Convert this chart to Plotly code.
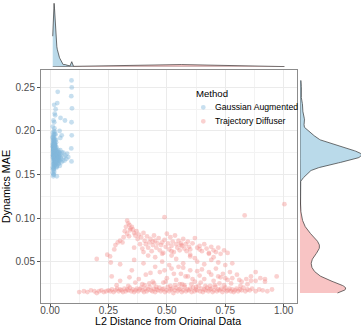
import numpy as np
import plotly.graph_objects as go

# ---------------- data ----------------
methods = ["Gaussian Augmented", "Trajectory Diffuser"]

gauss_x = [
    .0116,.013,.014,.012,.015,.013,.016,.014,.012,.017,
    .015,.016,.013,.018,.017,.014,.019,.016,.015,.018,
    .019,.020,.018,.013,.017,.014,.020,.019,.016,.012,
    .014,.018,.015,.017,.013,.019,.016,.020,.012,.018,
    .013,.017,.015,.019,.014,.016,.018,.012,.020,.015,
    .017,.013,.019,.016,.014,.018,.015,.020,.013,.016,
    .013,.014,.015,.016,.017,.018,.019,.020,.021,.022,
    .014,.015,.016,.017,.018,.019,.020,.013,.016,.018,
    .015,.016,.017,.018,.019,.014,.017,.019,.021,.016,
    .016,.017,.018,.015,.019,.020,.017,.018,.016,.015,
    .017,.018,.016,.019,.015,.018,.017,.020,.019,.022,
    .021,.023,.025,.022,.024,.026,.028,.021,.027,.029,
    .022,.024,.026,.023,.025,.027,.029,.021,.028,.030,
    .023,.025,.022,.027,.024,.026,.028,.021,.029,.025,
    .021,.024,.026,.022,.027,.023,.029,.025,.028,.030,
    .031,.033,.035,.032,.034,.036,.038,.031,.037,.039,
    .032,.034,.036,.033,.035,.031,.038,.037,.039,.040,
    .041,.043,.045,.042,.047,.044,.049,.046,.051,.054,
    .018,.031,.033,.020,.045,.064,.024,.015,.022,.041,
    .057,.060,.062,.066,.070,.073,.078,.044,.029,.050,
    .092,.093,.091,.094,.092,.093,.091,.092,
]
gauss_y = [
    .205,.198,.190,.185,.178,.172,.168,.162,.158,.200,
    .195,.188,.182,.176,.170,.165,.160,.155,.150,.210,
    .203,.196,.190,.184,.179,.173,.168,.163,.157,.152,
    .148,.186,.180,.175,.170,.165,.160,.199,.193,.188,
    .182,.177,.172,.167,.162,.157,.153,.192,.185,.179,
    .174,.169,.164,.159,.176,.171,.166,.161,.156,.150,
    .176,.181,.172,.186,.178,.169,.183,.175,.190,.180,
    .174,.188,.179,.171,.184,.177,.168,.182,.193,.176,
    .180,.173,.185,.178,.171,.189,.176,.182,.174,.196,
    .177,.183,.170,.179,.186,.174,.191,.180,.168,.184,
    .175,.181,.187,.172,.178,.184,.179,.176,.170,.182,
    .183,.178,.173,.168,.163,.187,.181,.176,.171,.166,
    .161,.196,.190,.184,.178,.173,.168,.163,.158,.175,
    .170,.165,.180,.174,.169,.164,.159,.185,.177,.172,
    .167,.162,.176,.171,.166,.181,.174,.169,.164,.160,
    .173,.168,.178,.163,.170,.166,.175,.171,.162,.167,
    .174,.169,.171,.165,.176,.168,.172,.163,.169,.175,
    .171,.166,.173,.160,.168,.178,.164,.170,.175,.166,
    .230,.232,.245,.220,.215,.212,.225,.212,.218,.200,
    .175,.170,.166,.172,.168,.174,.170,.192,.148,.195,
    .258,.250,.240,.226,.210,.195,.180,.165,
]

diff_x = [
    # low band
    .125,.145,.160,.175,.190,.200,.210,.220,.230,.240,
    .250,.258,.265,.272,.280,.287,.294,.300,.306,.312,
    .318,.324,.330,.336,.342,.348,.354,.360,.366,.372,
    .378,.384,.390,.396,.402,.408,.414,.420,.426,.432,
    .438,.444,.450,.456,.462,.468,.474,.480,.486,.492,
    .498,.504,.510,.516,.522,.528,.534,.540,.546,.552,
    .558,.564,.570,.576,.582,.588,.594,.600,.606,.612,
    .618,.624,.630,.636,.642,.648,.654,.660,.666,.672,
    .678,.684,.690,.696,.702,.708,.714,.720,.726,.732,
    .738,.744,.750,.756,.762,.768,.774,.780,.786,.792,
    .798,.805,.812,.820,.828,.836,.845,.855,.865,.880,
    .895,.910,.930,.950,.335,.405,.455,.515,.575,.625,
    .685,.745,.395,.445,.535,.605,.665,.725,.485,.555,
    .285,.365,.425,.495,.565,.645,.705,.775,.815,.845,
    # lower cloud
    .300,.340,.380,.410,.440,.470,.500,.520,.540,.560,
    .580,.600,.620,.640,.660,.680,.700,.720,.740,.760,
    .780,.800,.820,.840,.860,.880,.900,.920,.450,.490,
    .530,.570,.610,.650,.690,.730,.770,.810,.350,.430,
    .550,.590,.630,.710,.750,
    # middle cloud
    .260,.300,.360,.400,.450,.480,.510,.540,.570,.600,
    .630,.660,.690,.720,.750,.780,.420,.520,.620,.700,
    # upper cloud
    .330,.335,.325,.340,.345,.320,.350,.330,.338,.342,
    .355,.360,.315,.365,.370,.310,.375,.380,.300,.385,
    .390,.290,.395,.400,.280,.405,.410,.275,.415,.420,
    .425,.430,.435,.440,.445,.450,.455,.460,.465,.470,
    .475,.480,.485,.490,.495,.500,.505,.510,.515,.520,
    .525,.530,.535,.540,.545,.550,.555,.560,.565,.570,
    .575,.580,.585,.590,.595,.600,.610,.620,.630,.640,
    .650,.660,.670,.680,.690,.700,.710,.720,.730,.745,
    .760,.360,.400,.440,.480,.520,.560,.600,.640,.680,
    # outliers
    .200,.490,.833,1.003,.970,.880,.920,.860,.257,.264,.245,
]
diff_y = [
    .015,.016,.015,.017,.016,.014,.016,.017,.015,.016,
    .017,.016,.018,.015,.017,.019,.016,.018,.017,.015,
    .019,.016,.018,.017,.020,.016,.018,.015,.017,.019,
    .016,.018,.020,.017,.015,.019,.016,.018,.021,.017,
    .016,.019,.015,.018,.017,.020,.016,.018,.019,.015,
    .017,.021,.016,.018,.019,.014,.017,.020,.016,.018,
    .019,.015,.017,.021,.016,.018,.017,.019,.015,.020,
    .016,.018,.017,.022,.016,.019,.015,.018,.017,.020,
    .016,.018,.019,.015,.017,.021,.016,.018,.017,.019,
    .015,.018,.020,.016,.017,.019,.016,.018,.015,.017,
    .019,.016,.018,.017,.020,.016,.018,.017,.019,.016,
    .018,.017,.016,.018,.022,.023,.021,.022,.023,.021,
    .022,.023,.024,.025,.023,.024,.022,.025,.026,.024,
    .023,.026,.025,.027,.024,.026,.023,.025,.022,.024,
    .028,.032,.030,.035,.027,.038,.031,.042,.029,.036,
    .033,.040,.027,.034,.030,.038,.028,.033,.036,.029,
    .031,.035,.027,.030,.033,.028,.031,.027,.044,.040,
    .036,.043,.030,.041,.035,.032,.038,.029,.040,.037,
    .044,.033,.039,.042,.031,
    .049,.047,.052,.048,.055,.050,.046,.053,.048,.056,
    .050,.047,.052,.049,.046,.048,.057,.057,.054,.055,
    .097,.094,.090,.092,.088,.085,.090,.082,.079,.086,
    .087,.083,.078,.080,.085,.072,.076,.081,.074,.070,
    .078,.072,.065,.083,.069,.074,.070,.064,.079,.066,
    .072,.076,.062,.069,.080,.074,.066,.071,.077,.063,
    .069,.072,.060,.075,.067,.082,.071,.064,.078,.068,
    .073,.061,.080,.070,.066,.074,.063,.071,.068,.076,
    .065,.070,.062,.073,.067,.064,.071,.077,.066,.068,
    .062,.070,.065,.060,.067,.063,.061,.066,.059,.063,
    .060,.066,.061,.073,.059,.062,.069,.058,.064,.059,
    .053,.101,.103,.116,.033,.038,.030,.028,.056,.033,.058,
]

x_ticks = [0.00, 0.25, 0.50, 0.75, 1.00]
y_ticks = [0.05, 0.10, 0.15, 0.20, 0.25]

# ---------------- helpers ----------------
W, H = 361, 325
def px(v):  # horizontal pixel -> paper
    return v / W
def py(v):  # vertical pixel (from top) -> paper
    return (H - v) / H

def bw_nrd0(a):
    a = np.asarray(a, float)
    hi = a.std(ddof=1)
    q75, q25 = np.percentile(a, [75, 25])
    lo = min(hi, (q75 - q25) / 1.34)
    return 0.9 * lo * len(a) ** -0.2

def kde(a, grid):
    a = np.asarray(a, float)
    bw = bw_nrd0(a)
    z = (grid[:, None] - a[None, :]) / bw
    return np.exp(-0.5 * z ** 2).sum(axis=1) / (len(a) * bw * np.sqrt(2 * np.pi))

all_x = np.array(gauss_x + diff_x)
all_y = np.array(gauss_y + diff_y)
gx = np.linspace(all_x.min(), all_x.max(), 512)
gy = np.linspace(all_y.min(), all_y.max(), 512)

pt_colors = ["rgba(130,185,220,0.45)", "rgba(242,140,137,0.40)"]
fill_colors = ["rgba(186,218,234,1)", "rgba(248,196,196,1)"]

series = [(gauss_x, gauss_y), (diff_x, diff_y)]

fig = go.Figure()
dens_x, dens_y = [], []
for (sx, sy), name, pc in zip(series, methods, pt_colors):
    fig.add_trace(go.Scatter(x=sx, y=sy, mode="markers", name=name, showlegend=False,
                             marker=dict(size=4.8, color=pc, line=dict(width=0)),
                             xaxis="x", yaxis="y"))
for (sx, sy), fc in zip(series, fill_colors):
    dx = kde(sx, gx)
    dy = kde(sy, gy)
    dens_x.append(dx)
    dens_y.append(dy)
    fig.add_trace(go.Scatter(x=gx, y=dx, mode="lines", fill="tozeroy", fillcolor=fc,
                             line=dict(color="#333333", width=0.7), showlegend=False,
                             xaxis="x2", yaxis="y2", hoverinfo="skip"))
    fig.add_trace(go.Scatter(x=dy, y=gy, mode="lines", fill="tozerox", fillcolor=fc,
                             line=dict(color="#333333", width=0.7), showlegend=False,
                             xaxis="x3", yaxis="y3", hoverinfo="skip"))

maxdx = max(d.max() for d in dens_x)
maxdy = max(d.max() for d in dens_y)

font = "Liberation Sans, Arial, sans-serif"
grid_col = "#ebebeb"
minor = dict(showgrid=True, gridcolor="#f3f3f3", gridwidth=0.6, ticks="")

main_x_dom = [px(41), px(296.7)]
main_y_dom = [py(303), py(70)]

fig.update_layout(
    width=W, height=H, margin=dict(l=0, r=0, t=0, b=0),
    paper_bgcolor="white", plot_bgcolor="white",
    font=dict(family=font, size=10, color="#4d4d4d"),
    xaxis=dict(domain=main_x_dom, range=[-0.0386, 1.0557], tickvals=x_ticks,
               ticktext=[f"{v:.2f}" for v in x_ticks], showgrid=True, gridcolor=grid_col,
               gridwidth=0.9, minor=dict(dtick=0.125, tick0=0.125, **minor),
               zeroline=False, showline=True, linecolor="#8c8c8c", linewidth=1, mirror=True,
               ticks="outside", ticklen=3, tickcolor="#555555", tickwidth=0.8,
               ticklabelstandoff=-5,
               tickfont=dict(size=10, color="#4d4d4d"), anchor="y"),
    yaxis=dict(domain=main_y_dom, range=[0.0025, 0.270], tickvals=y_ticks,
               ticktext=[f"{v:.2f}" for v in y_ticks], showgrid=True, gridcolor=grid_col,
               gridwidth=0.9, minor=dict(dtick=0.025, tick0=0.025, **minor),
               zeroline=False, showline=True, linecolor="#8c8c8c", linewidth=1, mirror=True,
               ticks="outside", ticklen=3, tickcolor="#555555", tickwidth=0.8,
               tickfont=dict(size=10, color="#4d4d4d"), anchor="x",
               title=dict(text="Dynamics MAE", standoff=3,
                          font=dict(size=10.7, color="black"))),
    xaxis2=dict(domain=main_x_dom, matches="x", visible=False, anchor="y2"),
    yaxis2=dict(domain=[py(66.7), 1], range=[0, maxdx * 1.052], visible=False, anchor="x2"),
    xaxis3=dict(domain=[px(300), 1], range=[0, maxdy * 0.99], visible=False, anchor="y3"),
    yaxis3=dict(domain=main_y_dom, matches="y", visible=False, anchor="x3"),
    showlegend=False,
)

annots = [
    dict(text="L2 Distance from Original Data", x=px(167.5), y=py(320.5),
         font=dict(size=10.7, color="black")),
    dict(text="Method", x=px(194), y=py(93), xanchor="left",
         font=dict(size=9.6, color="black")),
]
leg_y = [107.3, 121.3]
shapes = []
for name, pc, ly in zip(methods, pt_colors, leg_y):
    annots.append(dict(text=name, x=px(212.5), y=py(ly), xanchor="left",
                       font=dict(size=8.7, color="black")))
    shapes.append(dict(type="circle", xref="paper", yref="paper", xsizemode="pixel",
                       ysizemode="pixel", xanchor=px(203.3), yanchor=py(ly),
                       x0=-2.4, x1=2.4, y0=-2.4, y1=2.4, fillcolor=pc, line=dict(width=0)))
for a in annots:
    a.update(xref="paper", yref="paper", showarrow=False)
    a.setdefault("xanchor", "center")
    a.setdefault("yanchor", "middle")
fig.update_layout(annotations=annots, shapes=shapes)

fig.write_html("out.html")
